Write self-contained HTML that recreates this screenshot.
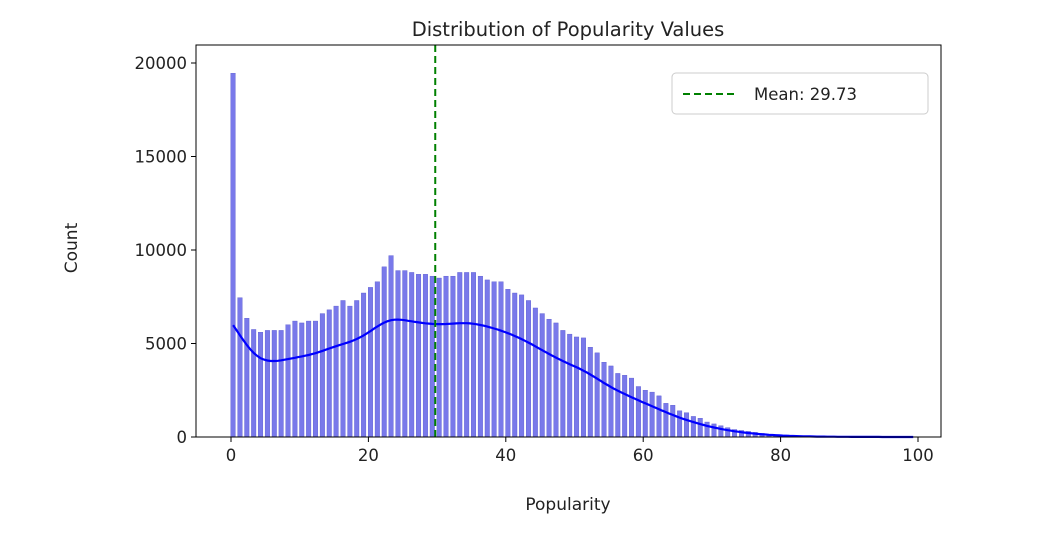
<!DOCTYPE html>
<html><head><meta charset="utf-8"><style>
body{margin:0;background:#fff;}
svg text{font-family:"DejaVu Sans","Liberation Sans",sans-serif;fill:#222;}
</style></head><body>
<svg id="c" width="1050" height="543"></svg>
<script>
const counts=[19450,7450,6350,5750,5600,5700,5700,5700,6000,6200,6100,6200,6200,6600,6800,7000,7300,7000,7300,7700,8000,8300,9100,9700,8900,8900,8800,8700,8700,8600,8500,8600,8600,8800,8800,8800,8600,8400,8300,8300,7900,7700,7600,7300,6900,6600,6300,6100,5700,5500,5350,5300,4800,4500,4000,3800,3400,3300,3150,2700,2500,2400,2200,1800,1700,1400,1300,1100,1000,800,700,600,500,400,350,300,250,200,150,120,100,80,60,50,40,30,25,20,15,12,10,8,6,5,4,3,2,2,1,1];
const yTicks=[0,5000,10000,15000,20000];
const xTicks=[0,20,40,60,80,100];
const meanVal=29.73;
const NS="http://www.w3.org/2000/svg";
const svg=document.getElementById('c');
const L=196,R=941,T=45,B=437;
const xs=v=>231+v*6.87;
const ys=v=>B-v*(93.5/5000);
function mk(t,a,p){const e=document.createElementNS(NS,t);for(const k in a)e.setAttribute(k,a[k]);(p||svg).appendChild(e);return e;}
counts.forEach((c,i)=>{
 const r=mk('rect',{x:xs(i)-0.2,y:ys(c),width:0.66*6.87,height:B-ys(c),fill:'#6a6ae8',stroke:'#5a5ad0','stroke-width':0.4,'fill-opacity':0.9});
 
 
});
let pts=[];
for(let x=0;x<=99;x+=0.5){let s=0,w=0;counts.forEach((c,i)=>{const d=(x-i)/1.9;const k=Math.exp(-d*d/2);s+=Math.min(c,12000)*k;w+=k;});
 let v=s/w*0.7; pts.push(xs(x+0.3).toFixed(1)+','+ys(v).toFixed(1));}
const kde=mk('polyline',{points:pts.join(' '),fill:'none',stroke:'#0000ff','stroke-width':2.2});


const ml=mk('line',{x1:xs(meanVal),x2:xs(meanVal),y1:T,y2:B,stroke:'#008000','stroke-width':2,'stroke-dasharray':'7,4'});


const fr=mk('rect',{x:L,y:T,width:R-L,height:B-T,fill:'none',stroke:'#000','stroke-width':1});


yTicks.forEach(v=>{const y=ys(v);mk('line',{x1:L-5,x2:L,y1:y,y2:y,stroke:'#000'});
 const t=mk('text',{x:L-9,y:y+6,'text-anchor':'end','font-size':16.5});t.textContent=v;
 
 });
xTicks.forEach(v=>{const x=xs(v);mk('line',{x1:x,x2:x,y1:B,y2:B+5,stroke:'#000'});
 const t=mk('text',{x:x,y:B+24,'text-anchor':'middle','font-size':16.5});t.textContent=v;
 
 });
const ti=mk('text',{x:568,y:36,'text-anchor':'middle','font-size':19.5});ti.textContent='Distribution of Popularity Values';

const xl=mk('text',{x:568,y:510,'text-anchor':'middle','font-size':17});xl.textContent='Popularity';

const yl=mk('text',{x:77,y:248,'text-anchor':'middle','font-size':17,transform:'rotate(-90 77 248)'});yl.textContent='Count';

const lg=mk('g',{});

mk('rect',{x:672,y:73,width:256,height:41,rx:4,fill:'#fff',stroke:'#ccc'},lg);
mk('line',{x1:683,x2:736,y1:94,y2:94,stroke:'#008000','stroke-width':2,'stroke-dasharray':'7,4'},lg);
const lt=mk('text',{x:754,y:100,'font-size':16.5},lg);lt.textContent='Mean: '+meanVal.toFixed(2);

</script>
</body></html>
